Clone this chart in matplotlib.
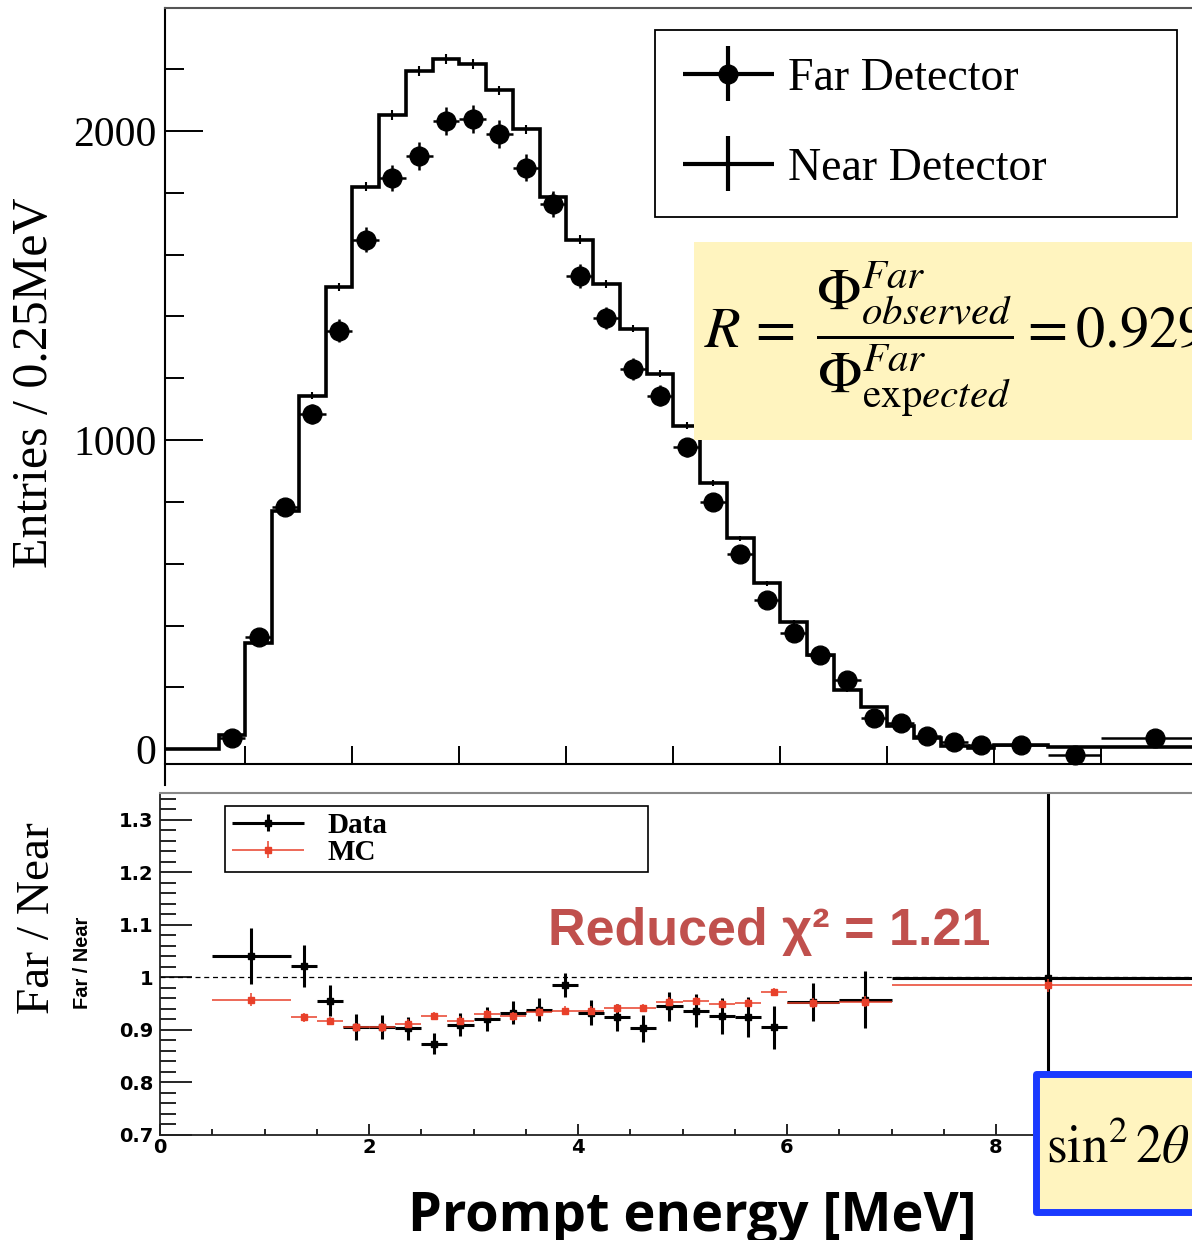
import matplotlib
matplotlib.use('Agg')
import matplotlib.pyplot as plt
import numpy as np
from matplotlib.patches import Rectangle
from matplotlib.legend_handler import HandlerErrorbar
from matplotlib.container import ErrorbarContainer
from matplotlib.collections import LineCollection
from matplotlib.ticker import MultipleLocator

plt.rcParams['mathtext.fontset'] = 'stix'

# ---------------- top panel: prompt energy spectra ----------------
bin_edges = [0.25, 0.5, 0.75, 1.0, 1.25, 1.5, 1.75, 2.0, 2.25, 2.5, 2.75, 3.0,
             3.25, 3.5, 3.75, 4.0, 4.25, 4.5, 4.75, 5.0, 5.25, 5.5, 5.75, 6.0,
             6.25, 6.5, 6.75, 7.0, 7.25, 7.5, 7.75, 8.0, 8.5, 9.0, 10.0]
near_counts = [0, 0, 45, 342, 770, 1144, 1496, 1820, 2052, 2194, 2233, 2216,
               2132, 2006, 1787, 1648, 1506, 1361, 1215, 1047, 860, 682, 536,
               410, 304, 191, 136, 74, 36, 10, 4, 13, 6, 8]
near_err = [0, 0, 2, 6, 9, 11, 13, 14, 15, 16, 16, 16, 15, 15, 14, 14, 13, 12,
            12, 11, 10, 9, 8, 7, 6, 5, 4, 3, 2, 1, 1, 1, 1, 1]

far_x = [0.875, 1.125, 1.375, 1.625, 1.875, 2.125, 2.375, 2.625, 2.875, 3.125,
         3.375, 3.625, 3.875, 4.125, 4.375, 4.625, 4.875, 5.125, 5.375, 5.625,
         5.875, 6.125, 6.375, 6.625, 6.875, 7.125, 7.375, 7.625, 7.875,
         8.25, 8.75, 9.5]
far_xerr = [0.125] * 29 + [0.25, 0.25, 0.5]
far_counts = [36, 362, 785, 1085, 1354, 1648, 1848, 1919, 2032, 2039, 1991,
              1881, 1763, 1532, 1395, 1231, 1144, 976, 801, 630, 481, 375, 304,
              223, 100, 85, 42, 23, 13, 13, -19, 36]
far_err = [6, 19, 28, 33, 37, 41, 43, 44, 45, 45, 45, 43, 42, 39, 37, 35, 34,
           31, 28, 25, 22, 19, 17, 15, 10, 9, 7, 5, 4, 5, 6, 6]

top_yticks = [0, 1000, 2000]
top_yticklabels = ['0', '1000', '2000']

# ---------------- bottom panel: Far / Near ratio ----------------
ratio_x = [0.875, 1.375, 1.625, 1.875, 2.125, 2.375, 2.625, 2.875, 3.125,
           3.375, 3.625, 3.875, 4.125, 4.375, 4.625, 4.875, 5.125, 5.375,
           5.625, 5.875, 6.25, 6.75, 8.5]
ratio_xerr = [0.375] + [0.125] * 19 + [0.25, 0.25, 1.5]
data_ratio = [1.041, 1.022, 0.956, 0.905, 0.905, 0.903, 0.874, 0.910, 0.921,
              0.933, 0.939, 0.985, 0.933, 0.924, 0.903, 0.945, 0.937, 0.927,
              0.924, 0.905, 0.954, 0.958, 0.999]
data_err = [0.053, 0.040, 0.030, 0.025, 0.023, 0.022, 0.020, 0.022, 0.022,
            0.022, 0.022, 0.023, 0.024, 0.025, 0.026, 0.028, 0.031, 0.034,
            0.038, 0.041, 0.036, 0.055, 0.600]
mc_ratio = [0.958, 0.924, 0.917, 0.905, 0.905, 0.912, 0.927, 0.918, 0.930,
            0.926, 0.934, 0.937, 0.937, 0.941, 0.942, 0.954, 0.955, 0.950,
            0.951, 0.972, 0.951, 0.954, 0.985]
mc_err = [0.013, 0.008, 0.008, 0.008, 0.008, 0.008, 0.008, 0.008, 0.008,
          0.008, 0.008, 0.008, 0.008, 0.008, 0.008, 0.008, 0.008, 0.008,
          0.008, 0.008, 0.010, 0.010, 0.012]

bot_xticks = [0, 2, 4, 6, 8]
bot_xticklabels = ['0', '2', '4', '6', '8']
bot_yticks = [0.7, 0.8, 0.9, 1.0, 1.1, 1.2, 1.3]
bot_yticklabels = ['0.7', '0.8', '0.9', '1', '1.1', '1.2', '1.3']

# ---------------- figure ----------------
W, H = 1192, 1240
fig = plt.figure(figsize=(W / 100, H / 100), dpi=100)
fig.patch.set_facecolor('white')


def fx(px):
    return px / W


def fy(py):
    return 1 - py / H


SERIF = 'Liberation Serif'

# ---- top axes ----
ax1 = fig.add_axes([fx(165), fy(785), 10.0 * 107 / W, (785 - 8) / H])
ax1.set_xlim(0.25, 10.25)
ax1.set_ylim(-116, 2398)

ax1.stairs(near_counts, bin_edges, color='black', lw=2.6, baseline=None)
edges = np.array(bin_edges)
centres = 0.5 * (edges[1:] + edges[:-1])
near_eb = ax1.errorbar(centres, near_counts, xerr=np.zeros(len(centres)),
                       yerr=near_err, fmt='none', ecolor='black',
                       elinewidth=1.5, capsize=0)
far_eb = ax1.errorbar(far_x, far_counts, xerr=far_xerr, yerr=far_err, fmt='o',
                      color='black', ms=13.5, elinewidth=1.8, capsize=0)

ax1.spines['bottom'].set_position(('data', -49))
for s in ['left', 'bottom']:
    ax1.spines[s].set_linewidth(1.5)
    ax1.spines[s].set_color('black')
ax1.spines['top'].set_linewidth(1.5)
ax1.spines['top'].set_color('#555555')
ax1.spines['right'].set_visible(False)

ax1.set_yticks(top_yticks, labels=top_yticklabels, family=SERIF, fontsize=30)
ax1.yaxis.set_minor_locator(MultipleLocator(200))
ax1.set_xticks(list(range(1, 11)))
ax1.tick_params(axis='y', which='major', direction='in', length=27, width=1.4,
                pad=6)
ax1.tick_params(axis='y', which='minor', direction='in', length=14, width=1.4)
ax1.tick_params(axis='x', which='major', direction='in', length=13, width=1.4,
                labelbottom=False)

leg1 = ax1.legend([far_eb, near_eb], ['Far Detector', 'Near Detector'],
                  handler_map={ErrorbarContainer: HandlerErrorbar(xerr_size=1.0,
                                                                  yerr_size=0.6)},
                  loc='upper left',
                  bbox_to_anchor=(fx(655), fy(213), (1177 - 655) / W, (213 - 30) / H),
                  bbox_transform=fig.transFigure, mode='expand',
                  borderaxespad=0, prop={'family': SERIF, 'size': 33},
                  handlelength=2.0, handletextpad=0.3, borderpad=0.6,
                  labelspacing=1.03, fancybox=False, framealpha=1,
                  edgecolor='black')
leg1.get_frame().set_linewidth(1.3)
for lc in leg1.findobj(LineCollection):
    lc.set_linewidth(3.0)

# ---- bottom axes ----
ax2 = fig.add_axes([fx(160), fy(1135), 10 * 104.5 / W, (1135 - 793) / H])
ax2.set_xlim(0, 10)

ax2.axhline(1.0, ls=(0, (4, 3)), color='black', lw=0.9, zorder=1)
data_eb = ax2.errorbar(ratio_x, data_ratio, xerr=ratio_xerr, yerr=data_err,
                       fmt='s', color='black', ms=4.5, elinewidth=2.2,
                       capsize=0, zorder=2)
mc_eb = ax2.errorbar(ratio_x, mc_ratio, xerr=ratio_xerr, yerr=mc_err, fmt='s',
                     color='#E8402A', ms=5, elinewidth=1.1, capsize=0,
                     zorder=3)

ax2.set_xticks(bot_xticks, labels=bot_xticklabels, fontweight='bold',
               fontsize=14, family='DejaVu Sans')
ax2.set_yticks(bot_yticks, labels=bot_yticklabels, fontweight='bold',
               fontsize=14, family='DejaVu Sans')
ax2.xaxis.set_minor_locator(MultipleLocator(0.5))
ax2.yaxis.set_minor_locator(MultipleLocator(0.02))
ax2.set_ylim(0.7, 1.3514)
ax2.set_xlim(0, 10)
ax2.tick_params(axis='y', which='major', direction='in', length=23, width=1.2,
                pad=5)
ax2.tick_params(axis='y', which='minor', direction='in', length=11.5, width=1.2)
ax2.tick_params(axis='x', which='major', direction='in', length=8, width=1.2,
                pad=2)
ax2.tick_params(axis='x', which='minor', direction='in', length=4.5, width=1.2)
for s in ['left', 'bottom']:
    ax2.spines[s].set_linewidth(1.3)
    ax2.spines[s].set_color('#222222')
ax2.spines['top'].set_linewidth(1.5)
ax2.spines['top'].set_color('#888888')
ax2.spines['right'].set_visible(False)

leg2 = ax2.legend([data_eb, mc_eb], ['Data', 'MC'],
                  handler_map={ErrorbarContainer: HandlerErrorbar(xerr_size=1.25,
                                                                  yerr_size=0.28)},
                  loc='upper left',
                  bbox_to_anchor=(fx(225), fy(866), (648 - 225) / W, (866 - 806) / H),
                  bbox_transform=fig.transFigure, mode='expand',
                  borderaxespad=0,
                  prop={'family': SERIF, 'size': 21, 'weight': 'bold'},
                  handlelength=2.55, handletextpad=0.75, borderpad=0.2,
                  labelspacing=0.0, fancybox=False, framealpha=1,
                  edgecolor='black')
leg2.get_frame().set_linewidth(1.2)

# ---- axis titles ----
fig.text(fx(35), fy(383), 'Entries / 0.25MeV', rotation=90, family=SERIF,
         fontsize=36, ha='center', va='center')
fig.text(fx(38), fy(918), 'Far / Near', rotation=90, family=SERIF,
         fontsize=34, ha='center', va='center')
small = fig.text(fx(83), fy(963), 'Far / Near', rotation=90,
                 family=['Liberation Sans', 'DejaVu Sans'], fontweight='bold',
                 fontsize=12, ha='center', va='center')
fig.text(fx(692), fy(1231), 'Prompt energy [MeV]', family=['Open Sans', 'DejaVu Sans'],
         fontweight='bold', fontsize=39, ha='center', va='baseline')

# ---- annotations ----
yellow = '#FFF4BF'
fig.add_artist(Rectangle((fx(694), fy(440)), 1.0, (440 - 242) / H,
                         transform=fig.transFigure, facecolor=yellow,
                         edgecolor='none', zorder=5))
fig.text(fx(704), fy(339),
         r'$R\,=\;\dfrac{\Phi^{Far}_{observed}}{\Phi^{Far}_{\mathrm{exp}ected}}=0.929$',
         fontsize=42, ha='left', va='center', zorder=6)

fig.text(fx(548), fy(945), 'Reduced χ² = 1.21', color='#C0504D',
         family=['Liberation Sans', 'DejaVu Sans'], fontweight='bold',
         fontsize=37.5, ha='left', va='baseline', zorder=6)

fig.add_artist(Rectangle((fx(1035.5), fy(1211.5)), 1.0, (1211.5 - 1073.5) / H,
                         transform=fig.transFigure, facecolor=yellow,
                         edgecolor='#1A3AFF', lw=5, joinstyle='round',
                         zorder=5))
fig.text(fx(1046), fy(1162), r'$\sin^2 2\theta_{13}$', fontsize=38,
         ha='left', va='baseline', zorder=6)

# size the small secondary label to the length it has in the chart
fig.canvas.draw()
bb = small.get_window_extent(fig.canvas.get_renderer())
small.set_fontsize(12 * 92.0 / bb.height)

fig.savefig('out.png', dpi=100, facecolor='white')
